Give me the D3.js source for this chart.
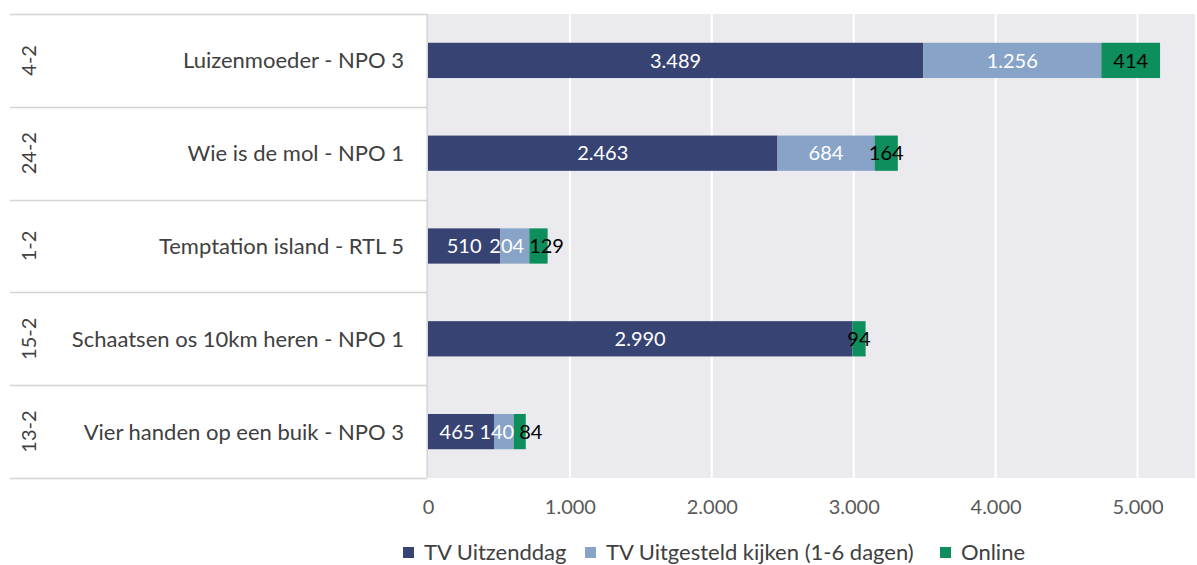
<!DOCTYPE html>
<html><head><meta charset="utf-8">
<script src="https://cdn.jsdelivr.net/npm/d3@7"></script>
<style>
body{margin:0;background:#fff;}
text{font-family:Lato, "Noto Sans", sans-serif;}
</style></head>
<body><svg id="c" width="1197" height="565"></svg>
<script>
const dates = ["4-2","24-2","1-2","15-2","13-2"];
const programs = ["Luizenmoeder - NPO 3","Wie is de mol - NPO 1","Temptation island - RTL 5","Schaatsen os 10km heren - NPO 1","Vier handen op een buik - NPO 3"];
const seriesNames = ["TV Uitzenddag","TV Uitgesteld kijken (1-6 dagen)","Online"];
const tvDay = [3489,2463,510,2990,465];
const tvDelayed = [1256,684,204,0,140];
const online = [414,164,129,94,84];
const xTicks = [0,1000,2000,3000,4000,5000];
const colors = ["#374373","#87a3c8","#0e8e5d"];
const labelColors = ["#fff","#fff","#000"];

(function(){
const svg = d3.select("#c");
const pTop=14, pBottom=478, pLeft=428, pRight=1195;
const x = d3.scaleLinear().domain([0,5000]).range([pLeft,1137.5]);
const y = d3.scaleBand().domain(programs).range([pTop,pBottom]).paddingInner(0.62).paddingOuter(0.31);
const fmt = v => d3.format(",")(v).replace(/,/g,".");

svg.append("rect").attr("x",pLeft-1).attr("y",pTop).attr("width",pRight-pLeft+1).attr("height",pBottom-pTop).attr("fill","#ebebef");
svg.append("g").selectAll("line").data(xTicks.slice(1)).join("line")
  .attr("x1",d=>x(d)).attr("x2",d=>x(d)).attr("y1",pTop).attr("y2",pBottom)
  .attr("stroke","#fff").attr("stroke-width",2);

const bandEdges = programs.map(p=>y(p)-y.step()*y.paddingInner()/2).concat([pBottom]);
svg.append("g").selectAll("line").data(bandEdges).join("line")
  .attr("x1",10).attr("x2",427).attr("y1",d=>Math.round(d)+0.5).attr("y2",d=>Math.round(d)+0.5)
  .attr("stroke","#d4d4d4").attr("stroke-width",1.5);
svg.append("line").attr("x1",427).attr("x2",427).attr("y1",pTop).attr("y2",pBottom).attr("stroke","#c8c8c8").attr("stroke-width",1);

const rows = programs.map((p,i)=>({program:p, date:dates[i], vals:[tvDay[i],tvDelayed[i],online[i]]}));
const segs = [];
rows.forEach(r=>{let acc=0; r.vals.forEach((v,k)=>{segs.push({program:r.program,k,v,x0:acc,x1:acc+v}); acc+=v;});});
const g = svg.append("g");
g.selectAll("rect").data(segs.filter(s=>s.v>0)).join("rect")
  .attr("x",s=>x(s.x0)).attr("width",s=>x(s.x1)-x(s.x0))
  .attr("y",s=>y(s.program)).attr("height",y.bandwidth())
  .attr("fill",s=>colors[s.k]);
const vl = g.selectAll("text").data(segs.filter(s=>s.v>0)).join("text")
  .attr("x",s=>(x(s.x0)+x(s.x1))/2).attr("y",s=>y(s.program)+y.bandwidth()/2)
  .attr("dy","0.36em").attr("text-anchor","middle")
  .attr("font-size",20).attr("fill",s=>labelColors[s.k]).text(s=>fmt(s.v));
// spread overlapping value labels within each row
vl.each(function(s){ s.w=this.getComputedTextLength(); s.c=(x(s.x0)+x(s.x1))/2; });
programs.forEach(p=>{
  const L = vl.data().filter(s=>s.program===p);
  for(let it=0; it<60; it++){
    for(let i=0;i<L.length-1;i++){
      const a=L[i], b=L[i+1];
      const ov=(a.w+b.w)/2+5-(b.c-a.c);
      if(ov>0){a.c-=ov/2; b.c+=ov/2;}
    }
    if(L.length && L[0].c-L[0].w/2<pLeft+2) L[0].c=pLeft+2+L[0].w/2;
  }
});
vl.attr("x",s=>s.c);

svg.append("g").selectAll("text").data(rows).join("text")
  .attr("x",404).attr("y",r=>y(r.program)+y.bandwidth()/2).attr("dy","0.36em")
  .attr("text-anchor","end").attr("font-size",22).attr("fill","#404040").text(r=>r.program);
svg.append("g").selectAll("text").data(rows).join("text")
  .attr("transform",r=>`translate(29,${y(r.program)+y.bandwidth()/2}) rotate(-90)`)
  .attr("dy","0.36em").attr("text-anchor","middle")
  .attr("font-size",20).attr("fill","#404040").text(r=>r.date);

const ax = svg.append("g").attr("transform",`translate(0,${pBottom})`)
  .call(d3.axisBottom(x).tickValues(xTicks).tickFormat(fmt).tickSize(0).tickPadding(22));
ax.select(".domain").remove();
ax.selectAll("text").attr("font-size",20).attr("fill","#595959").attr("font-family","Lato");

const legX = [403,585,940];
const leg = svg.append("g").selectAll("g").data(seriesNames).join("g")
  .attr("transform",(d,i)=>`translate(${legX[i]},552)`);
leg.append("rect").attr("x",0).attr("y",-5).attr("width",11).attr("height",11).attr("fill",(d,i)=>colors[i]);
leg.append("text").attr("x",21).attr("dy","0.36em").attr("font-size",22).attr("fill","#404040").text(d=>d);
})();
</script></body></html>
